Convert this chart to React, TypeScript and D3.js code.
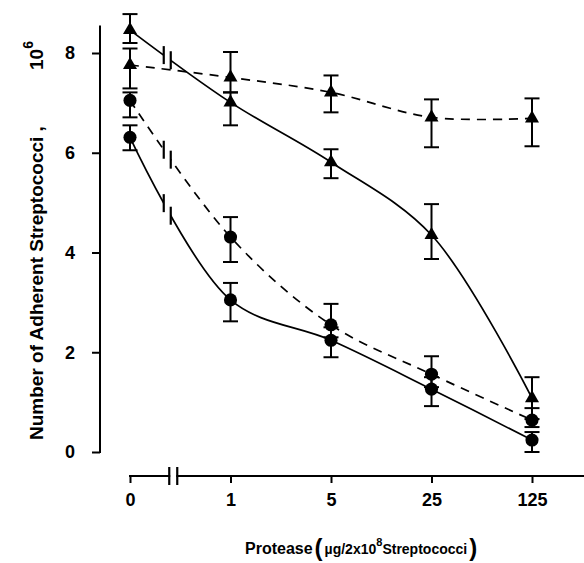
import { useEffect, useRef } from "react";
import * as d3 from "d3";

// protease doses (ug / 2x10^8 streptococci), categorical after the axis break
const doses = ["0", "1", "5", "25", "125"];
const yTicks = [0, 2, 4, 6, 8];

// filled triangles, solid line
const triSolid = [8.46, 7.01, 5.81, 4.35, 1.08];
const triSolidHi = [8.78, 7.21, 6.07, 4.97, 1.5];
const triSolidLo = [8.2, 6.55, 5.49, 3.87, 0.66];

// filled triangles, dashed line
const triDashed = [7.76, 7.51, 7.21, 6.71, 6.69];
const triDashedHi = [8.09, 8.02, 7.55, 7.07, 7.09];
const triDashedLo = [7.29, 7.21, 6.81, 6.11, 6.13];

// filled circles, dashed line
const circDashed = [7.05, 4.31, 2.55, 1.56, 0.64];
const circDashedHi = [7.21, 4.71, 2.97, 1.92, 0.88];
const circDashedLo = [6.71, 3.81, 2.3, 1.3, 0.5];

// filled circles, solid line
const circSolid = [6.31, 3.05, 2.24, 1.26, 0.24];
const circSolidHi = [6.55, 3.39, 2.5, 1.5, 0.4];
const circSolidLo = [6.05, 2.62, 1.9, 0.92, 0.0];

type Pt = { dose: string; v: number; hi: number; lo: number };

const build = (v: number[], hi: number[], lo: number[]): Pt[] =>
  doses.map((d, i) => ({ dose: d, v: v[i], hi: hi[i], lo: lo[i] }));

const series = [
  { key: "triSolid", shape: "tri", dashed: false, brk: true, pts: build(triSolid, triSolidHi, triSolidLo) },
  { key: "triDashed", shape: "tri", dashed: true, brk: false, pts: build(triDashed, triDashedHi, triDashedLo) },
  { key: "circDashed", shape: "circ", dashed: true, brk: true, pts: build(circDashed, circDashedHi, circDashedLo) },
  { key: "circSolid", shape: "circ", dashed: false, brk: true, pts: build(circSolid, circSolidHi, circSolidLo) },
];

function yAtX(node: SVGPathElement, tx: number) {
  let lo = 0;
  let hi = node.getTotalLength();
  for (let i = 0; i < 30; i++) {
    const mid = (lo + hi) / 2;
    if (node.getPointAtLength(mid).x < tx) lo = mid;
    else hi = mid;
  }
  return node.getPointAtLength(lo).y;
}

export default function App() {
  const ref = useRef<SVGSVGElement>(null);

  useEffect(() => {
    const width = 584;
    const height = 563;
    const axisLeftX = 100;
    const axisBottomY = 476;
    const font = "'Liberation Sans', Arial, Helvetica, sans-serif";

    const svg = d3.select(ref.current);
    svg.selectAll("*").remove();
    svg.attr("width", width).attr("height", height).attr("viewBox", `0 0 ${width} ${height}`);

    svg.append("rect").attr("width", width).attr("height", height).attr("fill", "#fff");

    const x = d3.scalePoint<string>().domain(doses).range([130, 532]);
    const y = d3.scaleLinear().domain([0, 8]).range([452, 53]);

    // Y axis
    const gy = svg.append("g")
      .attr("transform", `translate(${axisLeftX},0)`)
      .call(d3.axisLeft(y).tickValues(yTicks).tickSize(8).tickSizeOuter(0).tickPadding(17).tickFormat(d3.format("d")));
    gy.select(".domain").remove();
    gy.selectAll(".tick line").attr("stroke", "#000").attr("stroke-width", 2);
    gy.selectAll(".tick text")
      .attr("font-family", font).attr("font-weight", "bold").attr("font-size", 18).attr("fill", "#000");
    gy.append("line")
      .attr("x1", 0).attr("x2", 0)
      .attr("y1", y(0) + 1).attr("y2", y(8.55))
      .attr("stroke", "#000").attr("stroke-width", 2);

    // X axis
    const gx = svg.append("g")
      .attr("transform", `translate(0,${axisBottomY})`)
      .call(d3.axisBottom(x).tickSize(7).tickSizeOuter(0).tickPadding(10));
    gx.select(".domain").remove();
    gx.selectAll(".tick line").attr("stroke", "#000").attr("stroke-width", 2);
    gx.selectAll(".tick text")
      .attr("font-family", font).attr("font-weight", "bold").attr("font-size", 18).attr("fill", "#000");
    gx.append("line")
      .attr("x1", x("0")! - 1).attr("x2", width)
      .attr("y1", 0).attr("y2", 0)
      .attr("stroke", "#000").attr("stroke-width", 2);
    // axis break
    const axBrk = (x("0")! + x("1")!) / 2 - 7;
    gx.append("rect").attr("x", axBrk - 3).attr("y", -3).attr("width", 6).attr("height", 6).attr("fill", "#fff");
    [-4, 4].forEach(o => {
      gx.append("line")
        .attr("x1", axBrk + o).attr("x2", axBrk + o)
        .attr("y1", -9).attr("y2", 9)
        .attr("stroke", "#000").attr("stroke-width", 2.2);
    });

    const line = d3.line<Pt>()
      .x(d => x(d.dose)!)
      .y(d => y(d.v))
      .curve(d3.curveCatmullRom.alpha(0.5));

    const gLines = svg.append("g");
    const gBreaks = svg.append("g");
    const gMarks = svg.append("g");

    series.forEach(s => {
      const path = gLines.append("path")
        .attr("d", line(s.pts))
        .attr("fill", "none")
        .attr("stroke", "#000")
        .attr("stroke-width", 1.7)
        .attr("stroke-dasharray", s.dashed ? "9,7" : null);

      if (s.brk) {
        const node = path.node() as SVGPathElement;
        const bx = (x("0")! + x("1")!) / 2 - 13;
        const xs = [bx - 3.5, bx + 3.5];
        const ys = xs.map(xx => yAtX(node, xx));
        gBreaks.append("polygon")
          .attr("points", `${xs[0]},${ys[0] - 6} ${xs[1]},${ys[1] - 6} ${xs[1]},${ys[1] + 6} ${xs[0]},${ys[0] + 6}`)
          .attr("fill", "#fff");
        xs.forEach((xx, i) => {
          gBreaks.append("line")
            .attr("x1", xx).attr("x2", xx)
            .attr("y1", ys[i] - 9).attr("y2", ys[i] + 9)
            .attr("stroke", "#000").attr("stroke-width", 2.2);
        });
      }

      const g = gMarks.append("g");
      // error bars
      s.pts.forEach(p => {
        const cx = x(p.dose)!;
        g.append("line")
          .attr("x1", cx).attr("x2", cx)
          .attr("y1", y(p.hi)).attr("y2", y(p.lo))
          .attr("stroke", "#000").attr("stroke-width", 2);
        [p.hi, p.lo].forEach(v => {
          g.append("line")
            .attr("x1", cx - 7.5).attr("x2", cx + 7.5)
            .attr("y1", y(v)).attr("y2", y(v))
            .attr("stroke", "#000").attr("stroke-width", 2);
        });
      });
      // markers
      const sym = d3.symbol()
        .type(s.shape === "tri" ? d3.symbolTriangle : d3.symbolCircle)
        .size(s.shape === "tri" ? 85 : 135);
      g.selectAll("path.mark")
        .data(s.pts)
        .join("path")
        .attr("class", "mark")
        .attr("transform", d => `translate(${x(d.dose)},${y(d.v)})`)
        .attr("d", sym()!)
        .attr("fill", "#000");
    });

    // Y title
    svg.append("text")
      .attr("transform", "translate(43,440) rotate(-90)")
      .attr("font-family", font)
      .attr("font-weight", "bold")
      .attr("font-size", 19)
      .attr("fill", "#000")
      .text("Number of Adherent Streptococci ,");
    const yt2 = svg.append("text")
      .attr("transform", "translate(43,70) rotate(-90)")
      .attr("font-family", font)
      .attr("font-weight", "bold")
      .attr("font-size", 19)
      .attr("fill", "#000");
    yt2.append("tspan").text("10");
    yt2.append("tspan").attr("dy", -10).attr("font-size", 14).text("6");

    // X title
    const xt = svg.append("text")
      .attr("x", 245).attr("y", 554)
      .attr("font-family", font)
      .attr("font-weight", "bold")
      .attr("font-size", 16)
      .attr("fill", "#000");
    xt.append("tspan").text("Protease");
    xt.append("tspan").attr("font-size", 24).attr("dy", 2).attr("dx", 2).text("(");
    xt.append("tspan").attr("font-size", 14).attr("dy", -2).attr("dx", 2).text("\u00b5g/2x10");
    xt.append("tspan").attr("font-size", 11).attr("dy", -8).text("8");
    xt.append("tspan").attr("font-size", 14).attr("dy", 8).text("Streptococci");
    xt.append("tspan").attr("font-size", 24).attr("dy", 2).attr("dx", 2).text(")");
  }, []);

  return (
    <svg
      ref={ref}
      style={{ position: "absolute", left: 0, top: 0, display: "block" }}
    />
  );
}
